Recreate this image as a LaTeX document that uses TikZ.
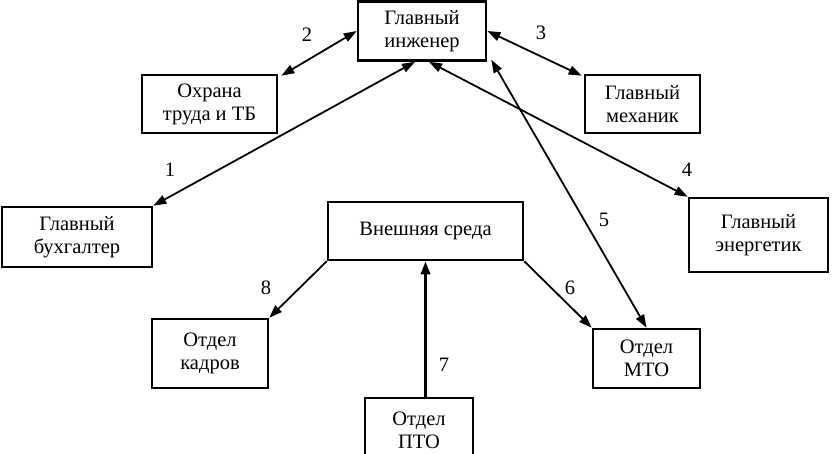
\documentclass[tikz,border=0pt]{standalone}
\usepackage{fontspec}
\setmainfont{Liberation Serif}
\usetikzlibrary{arrows.meta,calc}
\begin{document}
\begin{tikzpicture}[x=1pt,y=-1pt,
  box/.style={draw=black,line width=2.6pt,inner sep=0pt,align=center,
    font=\fontsize{20.5}{23}\selectfont},
  lbl/.style={font=\fontsize{20.5}{23}\selectfont,inner sep=0pt},
  conn/.style={line width=1.8pt,{Triangle[length=13pt,width=9pt]}-{Triangle[length=13pt,width=9pt]}},
  oneway/.style={line width=1.8pt,-{Triangle[length=13pt,width=9pt]}}]
\useasboundingbox (0,0) rectangle (833,453);
\clip (0,0) rectangle (833,453);
\node[box,minimum width=128pt,minimum height=59pt] (ing) at (422,31) {Главный\\инженер};
\node[box,minimum width=135pt,minimum height=58pt] (ohr) at (209.5,104) {Охрана\\труда и ТБ};
\node[box,minimum width=115pt,minimum height=58pt] (mex) at (642.5,104) {Главный\\механик};
\node[box,minimum width=150pt,minimum height=60pt] (buh) at (77,237) {Главный\\бухгалтер};
\node[box,minimum width=195pt,minimum height=58pt] (sred) at (425.5,231) {Внешняя среда};
\node[box,minimum width=139pt,minimum height=74pt] (ener) at (758.5,235) {Главный\\энергетик};
\node[box,minimum width=116pt,minimum height=69pt] (kad) at (210,353.5) {Отдел\\кадров};
\node[box,minimum width=107pt,minimum height=59pt] (mto) at (646.5,358.5) {Отдел\\МТО};
\node[box,minimum width=108pt,minimum height=64pt] (pto) at (419,430) {Отдел\\ПТО};
\draw[conn] (buh.north east) -- ([xshift=-7pt]ing.south);
\draw[conn] ([shift={(3pt,-2pt)}]ohr.north east) -- (ing.west);
\draw[conn] (ing.east) -- ([shift={(-2pt,-2pt)}]mex.north west);
\draw[conn] ([xshift=7pt]ing.south) -- (ener.north west);
\draw[conn] ([shift={(4pt,2pt)}]ing.south east) -- (mto.north);
\draw[oneway] (sred.south east) -- (mto.north west);
\draw[oneway,line width=3pt] (pto.north -| sred.south) -- (sred.south);
\draw[oneway] (sred.south west) -- (kad.north east);
\node[lbl] (l1) at (170,170) {1};
\node[lbl] (l2) at (307,35) {2};
\node[lbl] (l3) at (541,33) {3};
\node[lbl] (l4) at (687,170) {4};
\node[lbl] (l5) at (604,220) {5};
\node[lbl] (l6) at (570,288) {6};
\node[lbl] (l7) at (444,365) {7};
\node[lbl] (l8) at (266,288) {8};
\end{tikzpicture}
\end{document}
